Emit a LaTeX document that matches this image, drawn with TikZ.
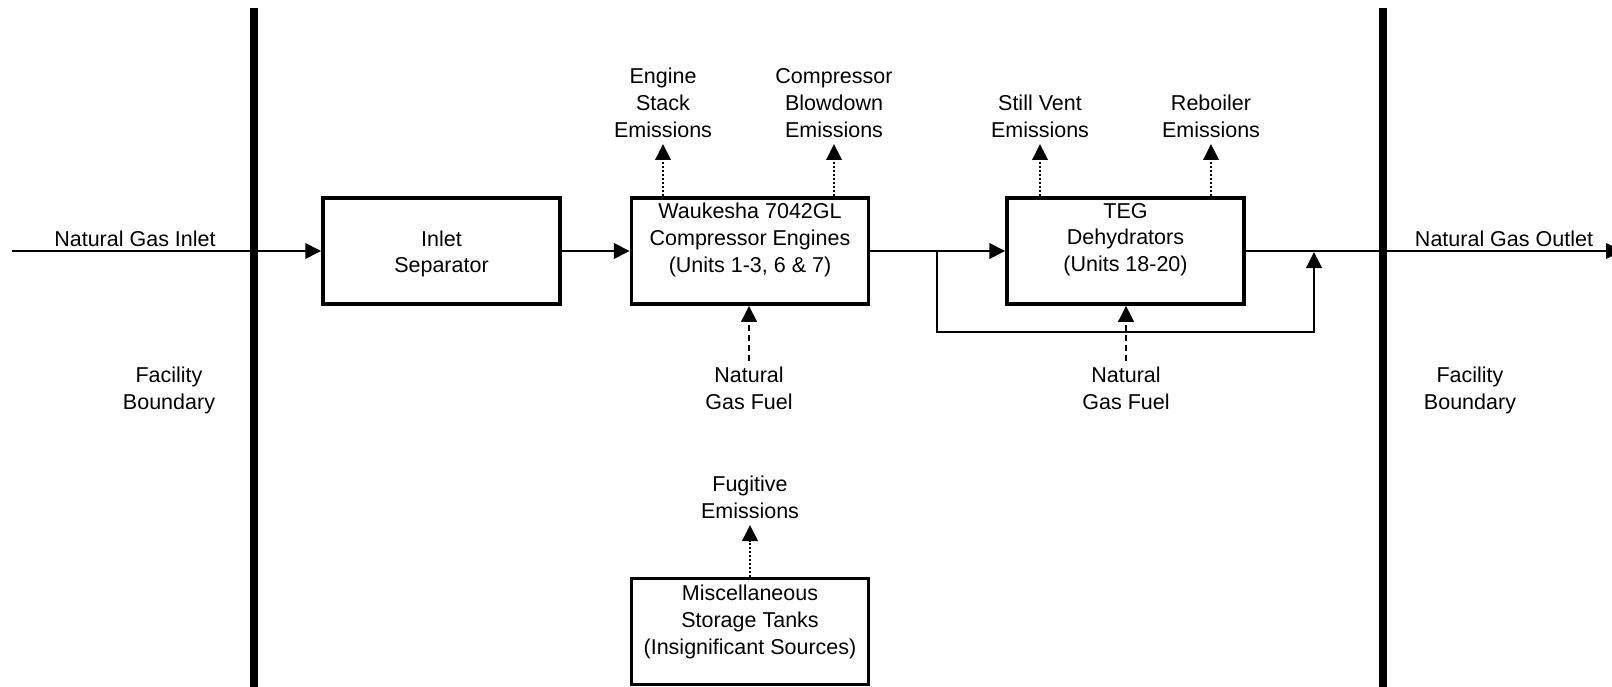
\documentclass[tikz,border=0pt]{standalone}
\usepackage{fontspec}
\setmainfont{Liberation Sans}
\usetikzlibrary{arrows.meta,calc}
\begin{document}
\begin{tikzpicture}[x=1pt,y=-1pt,
  every node/.style={font=\fontsize{21.5}{26.8}\selectfont, align=center, inner sep=0pt},
  box/.style={draw, line width=3.5pt, minimum width=237pt, minimum height=106pt},
  bound/.style={line width=8pt},
  link/.style={line width=2pt},
  flow/.style={link, -{Triangle[length=16pt,width=15.5pt]}},
  emis/.style={flow, dash pattern=on 1.8pt off 2.2pt},
  fuel/.style={flow, dash pattern=on 6pt off 4pt},
  up/.style={anchor=south, inner sep=6pt},
  down/.style={anchor=north, inner sep=6pt}]
\useasboundingbox (0,0) rectangle (1612,687);
\fill[white] (0,0) rectangle (1612,687);

% facility boundaries
\coordinate (lbt) at (254,8);
\coordinate (lbb) at (254,690);
\coordinate (rbt) at (1383,8);
\coordinate (rbb) at (1383,690);
\draw[bound] (lbt) -- (lbb);
\draw[bound] (rbt) -- (rbb);
\node (fbl) at (169,390.5) {Facility\\Boundary};
\node (fbr) at (1470,390.5) {Facility\\Boundary};

% process boxes
\node[box] (sep) at (441.5,251) {};
\node[box] (wauk) at (750,251) {};
\node[box] (teg) at (1125.5,251) {};
\node[box] (misc) at (750,631.5) {};
\node (sept) at (441.5,254) {Inlet\\Separator};
\node (waukt) at (750,239.7) {Waukesha 7042GL\\Compressor Engines\\(Units 1-3, 6 \& 7)};
\node (tegt) at (1125.5,239.7) {TEG\\Dehydrators\\(Units 18-20)};
\node (misct) at (750,622.2) {Miscellaneous\\Storage Tanks\\(Insignificant Sources)};

% main gas flow
\coordinate (in) at (12,251);
\coordinate (out) at (1622,251);
\node[anchor=base] (inl) at (135,247) {Natural Gas Inlet};
\node[anchor=base] (outl) at (1504,247) {Natural Gas Outlet};
\draw[flow] (in) -- (sep.west);
\draw[flow] (sep.east) -- (wauk.west);
\draw[flow] (wauk.east) -- (teg.west);
\draw[flow] (teg.east) -- (out);

% bypass
\coordinate (bps) at (937,251);
\coordinate (bpa) at (937,332);
\coordinate (bpb) at (1314,332);
\coordinate (bpe) at (1314,252);
\draw[flow] (bps) -- (bpa) -- (bpb) -- (bpe);

% emissions
\node[up] (es) at (663,144) {Engine\\Stack\\Emissions};
\node[up] (cb) at (834,144) {Compressor\\Blowdown\\Emissions};
\node[up] (sv) at (1040,144) {Still Vent\\Emissions};
\node[up] (rb) at (1211,144) {Reboiler\\Emissions};
\node[up] (fe) at (750,525) {Fugitive\\Emissions};
\draw[emis] (es.south |- wauk.north) -- (es.south);
\draw[emis] (cb.south |- wauk.north) -- (cb.south);
\draw[emis] (sv.south |- teg.north) -- (sv.south);
\draw[emis] (rb.south |- teg.north) -- (rb.south);
\draw[emis] (misc.north) -- (fe.south);

% fuel
\node[down] (f1) at (749,361) {Natural\\Gas Fuel};
\node[down] (f2) at (1126,361) {Natural\\Gas Fuel};
\draw[fuel] (f1.north) -- (f1.north |- wauk.south);
\draw[fuel] (f2.north) -- (f2.north |- teg.south);
\end{tikzpicture}
\end{document}
